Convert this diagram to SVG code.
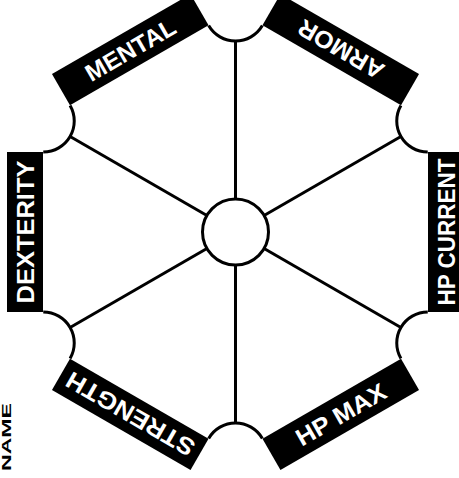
<svg xmlns="http://www.w3.org/2000/svg" width="459" height="478" viewBox="0 0 459 478">
  <style>
    .bar { fill: #000; }
    .lbl { fill: #fff; font-family: "Liberation Sans", Arial, sans-serif; font-weight: bold; font-size: 24px; text-anchor: middle; }
    .line { stroke: #000; stroke-width: 3; fill: none; }
    .hub { fill: #fff; stroke: #000; stroke-width: 3; }
    .name { fill: #000; font-family: "Liberation Sans", Arial, sans-serif; font-weight: bold; font-size: 13px; text-anchor: middle; }
  </style>
  <defs>
    <rect id="barShape" x="-228.5" y="-80" width="36" height="160"/>
    <path id="notchArc" d="M -192.26 -80 A 31 31 0 0 0 -165.41 -126.5"/>
    <line id="spoke" x1="0" y1="0" x2="-165.41" y2="-95.5"/>
  </defs>
  <rect x="0" y="0" width="459" height="478" fill="#fff"/>

  <g id="outline" class="line" transform="translate(235.5 232)">
    <use href="#notchArc" transform="rotate(0)"/>
    <use href="#notchArc" transform="rotate(60)"/>
    <use href="#notchArc" transform="rotate(120)"/>
    <use href="#notchArc" transform="rotate(180)"/>
    <use href="#notchArc" transform="rotate(240)"/>
    <use href="#notchArc" transform="rotate(300)"/>
  </g>

  <g id="connectors" class="line" transform="translate(235.5 232)">
    <use href="#spoke" transform="rotate(0)"/>
    <use href="#spoke" transform="rotate(60)"/>
    <use href="#spoke" transform="rotate(120)"/>
    <use href="#spoke" transform="rotate(180)"/>
    <use href="#spoke" transform="rotate(240)"/>
    <use href="#spoke" transform="rotate(300)"/>
  </g>

  <g id="center">
    <circle class="hub" cx="235.5" cy="232" r="33"/>
  </g>

  <g id="dexterity">
    <use href="#barShape" class="bar" transform="translate(235.5 232) rotate(0)"/>
    <text class="lbl" transform="translate(25 232) rotate(-90)" y="8.6" textLength="143" lengthAdjust="spacingAndGlyphs">DEXTERITY</text>
  </g>

  <g id="mental">
    <use href="#barShape" class="bar" transform="translate(235.5 232) rotate(60)"/>
    <text class="lbl" transform="translate(130.25 49.7) rotate(-30)" y="8.6" textLength="100" lengthAdjust="spacingAndGlyphs">MENTAL</text>
  </g>

  <g id="armor">
    <use href="#barShape" class="bar" transform="translate(235.5 232) rotate(120)"/>
    <text class="lbl" transform="translate(340.75 49.7) rotate(210)" y="8.6" textLength="95" lengthAdjust="spacingAndGlyphs">ARMOR</text>
  </g>

  <g id="hp-current">
    <use href="#barShape" class="bar" transform="translate(235.5 232) rotate(180)"/>
    <text class="lbl" transform="translate(446 232) rotate(-90)" y="8.6" textLength="147" lengthAdjust="spacingAndGlyphs">HP CURRENT</text>
  </g>

  <g id="hp-max">
    <use href="#barShape" class="bar" transform="translate(235.5 232) rotate(240)"/>
    <text class="lbl" transform="translate(340.75 414.3) rotate(-30)" y="8.6" textLength="100" lengthAdjust="spacingAndGlyphs">HP MAX</text>
  </g>

  <g id="strength">
    <use href="#barShape" class="bar" transform="translate(235.5 232) rotate(300)"/>
    <text class="lbl" transform="translate(130.25 414.3) rotate(210)" y="8.6" textLength="144" lengthAdjust="spacingAndGlyphs">STRENGTH</text>
  </g>

  <g id="name">
    <text class="name" transform="translate(11 437) rotate(-90)" textLength="68" lengthAdjust="spacingAndGlyphs">NAME</text>
  </g>
</svg>
